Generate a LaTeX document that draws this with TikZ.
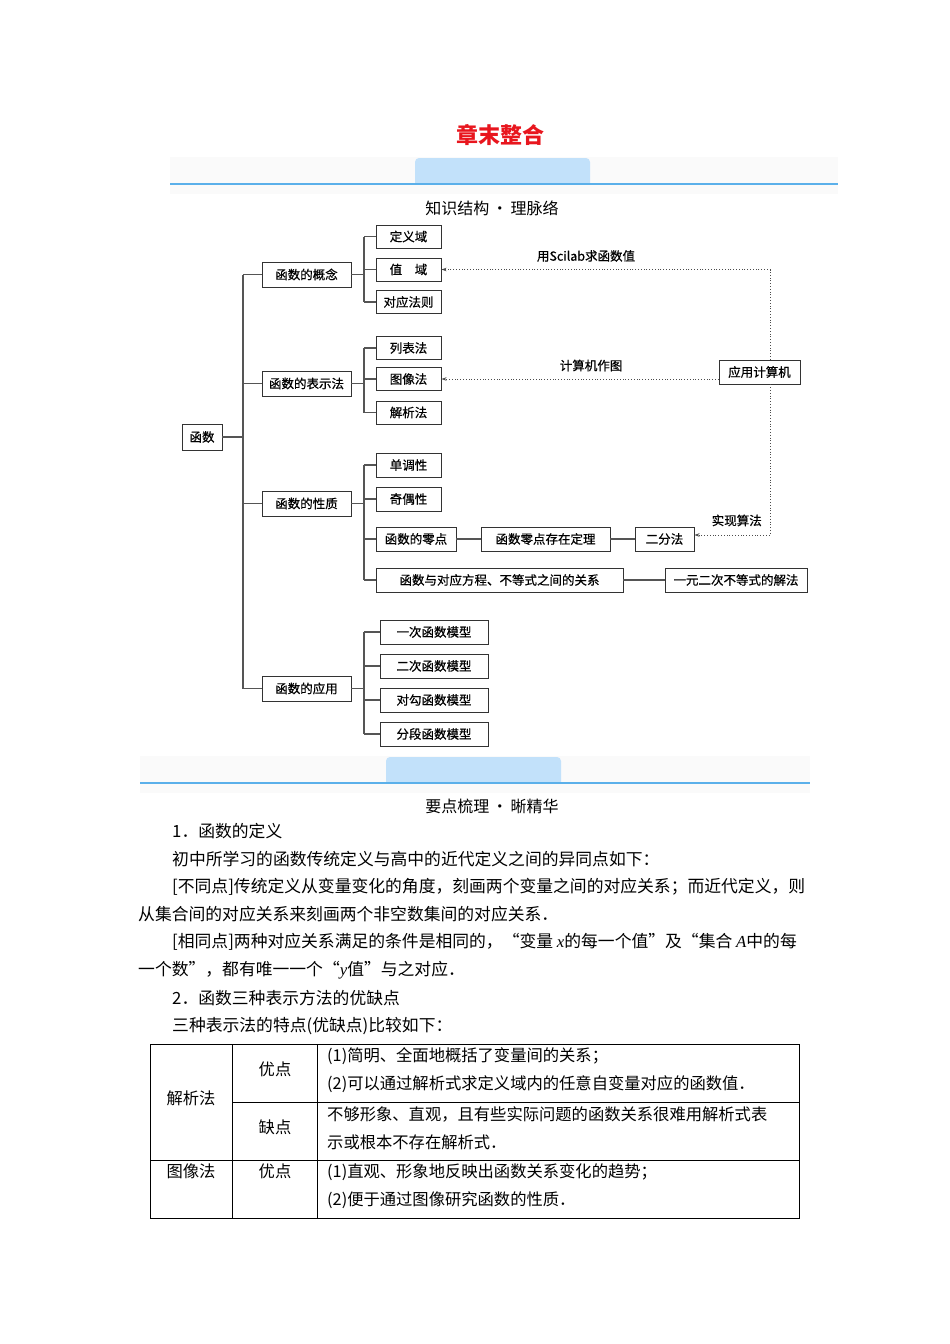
\documentclass[tikz,border=0pt]{standalone}
\usepackage{fontspec}
\setmainfont{Noto Sans CJK SC}
\newfontfamily\latinit{Liberation Serif}
\newfontfamily\boxfont[FakeBold=0.6]{Noto Sans CJK SC}
\usetikzlibrary{positioning}
\usetikzlibrary{arrows.meta}
\definecolor{titlered}{HTML}{E8161E}
\definecolor{tabblue}{HTML}{C2E1FA}
\definecolor{lineblue}{HTML}{5BB0EA}
\definecolor{treegray}{HTML}{555555}

\begin{document}
\begin{tikzpicture}[x=1pt, y=-1pt,
  item/.style={rectangle, draw=black!80, line width=0.9pt, minimum height=24pt, inner sep=0pt, font=\boxfont\fontsize{12.5}{14}\selectfont},
  link/.style={draw=treegray, line width=1.1pt},
  dotarrow/.style={draw=black!70, dotted, line width=0.8pt, -{Stealth[length=5pt,width=3.5pt]}},
  note/.style={font=\boxfont\fontsize{12.5}{14}\selectfont},
  body/.style={anchor=west, inner sep=0pt, font=\fontsize{16.8}{18}\selectfont},
  cell/.style={anchor=west, inner sep=0pt, font=\fontsize{16.3}{18}\selectfont}
]
  \useasboundingbox (0,0) rectangle (950,1344);

  % 标题
  \node[font=\fontsize{22}{24}\selectfont\bfseries, text=titlered] (title) at (500,135) {章末整合};

  % 知识结构
  \fill[black!2] (170,157) rectangle (838,194);
  \fill[tabblue] (415,184) [rounded corners=4pt] -- (415,158) -- (590,158) [sharp corners] -- (590,184) -- cycle;
  \draw[lineblue, line width=1.5pt] (170,184) -- (838,184);
  \node[font=\fontsize{16}{18}\selectfont] (sec1) at (492,208) {知识结构\,•\,理脉络};

  \coordinate (trunk) at (243,0);
  \coordinate (fork) at (364,0);
  \coordinate (vx) at (770,0);

  \node[item, minimum width=40pt, minimum height=26pt] (hs) at (202,437) {函数};

  \node[item, minimum width=89pt, minimum height=25pt] (gn) at (306.5,274.5) {函数的概念};
  \node[item, minimum width=89pt, minimum height=25pt] (bsf) at (306.5,383.5) {函数的表示法};
  \node[item, minimum width=89pt, minimum height=25pt] (xz) at (306.5,503.5) {函数的性质};
  \node[item, minimum width=89pt, minimum height=25pt] (yy) at (306.5,688.5) {函数的应用};

  \node[item, minimum width=65pt, minimum height=23pt] (dyy) at (408.5,236.5) {定义域};
  \node[item, minimum width=65pt, minimum height=23pt] (zy) at (408.5,269.5) {值\quad 域};
  \node[item, minimum width=65pt, minimum height=23pt] (dyfz) at (408.5,302) {对应法则};

  \node[item, minimum width=65pt, minimum height=23pt] (lbf) at (408.5,348) {列表法};
  \node[item, minimum width=65pt, minimum height=23pt] (txf) at (408.5,379) {图像法};
  \node[item, minimum width=65pt, minimum height=23pt] (jxf) at (408.5,412.5) {解析法};

  \node[item, minimum width=65pt] (ddx) at (408.5,465) {单调性};
  \node[item, minimum width=65pt] (joux) at (408.5,499) {奇偶性};
  \node[item, minimum width=80pt] (ld) at (416,539) {函数的零点};
  \node[item, minimum width=129pt] (dl) at (545.5,539) {函数零点存在定理};
  \node[item, minimum width=59pt] (efa) at (664.5,539) {二分法};
  \node[item, minimum width=247pt] (gx) at (499.5,580) {函数与对应方程、不等式之间的关系};
  \node[item, minimum width=142pt] (yyec) at (736,580) {一元二次不等式的解法};

  \node[item, minimum width=108pt] (m1) at (434,632) {一次函数模型};
  \node[item, minimum width=108pt] (m2) at (434,666) {二次函数模型};
  \node[item, minimum width=108pt] (m3) at (434,700) {对勾函数模型};
  \node[item, minimum width=108pt] (m4) at (434,734) {分段函数模型};

  \node[item, minimum width=81pt] (yyjsj) at (759.5,372) {应用计算机};

  % 树形连线
  \draw[link] (hs.east) -- (trunk |- hs);
  \draw[link] (trunk |- gn) -- (trunk |- yy);
  \foreach \n in {gn,bsf,xz,yy}
    \draw[link] (trunk |- \n) -- (\n.west);

  \draw[link] (gn.east) -- (fork |- gn);
  \draw[link] (fork |- dyy) -- (fork |- dyfz);
  \foreach \n in {dyy,zy,dyfz}
    \draw[link] (fork |- \n) -- (\n.west);

  \draw[link] (bsf.east) -- (fork |- bsf);
  \draw[link] (fork |- lbf) -- (fork |- jxf);
  \foreach \n in {lbf,txf,jxf}
    \draw[link] (fork |- \n) -- (\n.west);

  \draw[link] (xz.east) -- (fork |- xz);
  \draw[link] (fork |- ddx) -- (fork |- gx);
  \foreach \n in {ddx,joux,ld,gx}
    \draw[link] (fork |- \n) -- (\n.west);

  \draw[link] (yy.east) -- (fork |- yy);
  \draw[link] (fork |- m1) -- (fork |- m4);
  \foreach \n in {m1,m2,m3,m4}
    \draw[link] (fork |- \n) -- (\n.west);

  \draw[link] (ld) -- (dl);
  \draw[link] (dl) -- (efa);
  \draw[link] (gx) -- (yyec);

  % 应用计算机
  \draw[dotarrow] (yyjsj.north -| vx) |- (zy.east) node[note, pos=0.78, above=4pt] {用Scilab求函数值};
  \draw[dotarrow] (yyjsj.west |- txf) -- (txf.east) node[note, pos=0.46, above=4pt] {计算机作图};
  \draw[dotarrow] (yyjsj.south -| vx) |- ([yshift=4pt]efa.east) node[note, pos=0.72, above=5pt] {实现算法};

  % 要点梳理
  \fill[black!2] (140,756) rectangle (810,793);
  \fill[tabblue] (386,783) [rounded corners=4pt] -- (386,757) -- (561,757) [sharp corners] -- (561,783) -- cycle;
  \draw[lineblue, line width=1.5pt] (140,783) -- (810,783);
  \node[font=\fontsize{16}{18}\selectfont] (sec2) at (492,806) {要点梳理\,•\,晰精华};

  \node[body] (p1) at (172,831) {1．函数的定义};
  \node[body] (p2) at (172,859) {初中所学习的函数传统定义与高中的近代定义之间的异同点如下：};
  \node[body] (p3) at (172,887) {[不同点]传统定义从变量变化的角度，刻画两个变量之间的对应关系；而近代定义，则};
  \node[body] (p4) at (138,914) {从集合间的对应关系来刻画两个非空数集间的对应关系．};
  \node[body] (p5) at (172,942) {[相同点]两种对应关系满足的条件是相同的，“变量 {\latinit\itshape x}的每一个值”及“集合 {\latinit\itshape A}中的每};
  \node[body] (p6) at (138,970) {一个数”，都有唯一一个“{\latinit\itshape y}值”与之对应．};
  \node[body] (p7) at (172,998) {2．函数三种表示方法的优缺点};
  \node[body] (p8) at (172,1026) {三种表示法的特点(优缺点)比较如下：};

  % 表格
  \draw[line width=0.8pt] (150,1044) rectangle (799,1218);
  \draw[line width=0.8pt] (232,1044) -- (232,1218);
  \draw[line width=0.8pt] (317,1044) -- (317,1218);
  \draw[line width=0.8pt] (232,1102) -- (799,1102);
  \draw[line width=0.8pt] (150,1160) -- (799,1160);

  \node[cell, anchor=center] (c1) at (191,1098) {解析法};
  \node[cell, anchor=center] (c2) at (275,1069) {优点};
  \node[cell, anchor=center] (c3) at (275,1127) {缺点};
  \node[cell, anchor=center] (c4) at (191,1171) {图像法};
  \node[cell, anchor=center] (c5) at (275,1171) {优点};

  \node[cell] (t1) at (327,1056) {(1)简明、全面地概括了变量间的关系；};
  \node[cell] (t2) at (327,1084) {(2)可以通过解析式求定义域内的任意自变量对应的函数值．};
  \node[cell] (t3) at (327,1114) {不够形象、直观，且有些实际问题的函数关系很难用解析式表};
  \node[cell] (t4) at (327,1142) {示或根本不存在解析式．};
  \node[cell] (t5) at (327,1172) {(1)直观、形象地反映出函数关系变化的趋势；};
  \node[cell] (t6) at (327,1200) {(2)便于通过图像研究函数的性质．};
\end{tikzpicture}
\end{document}
